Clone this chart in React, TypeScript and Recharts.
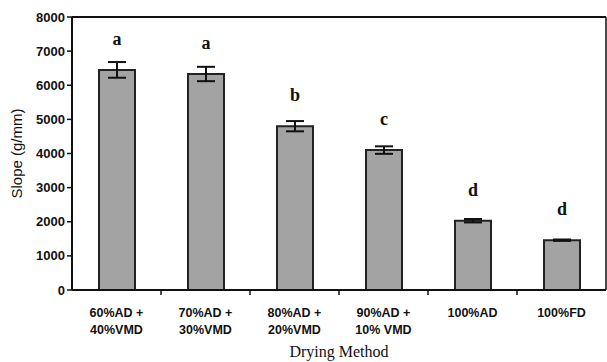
import { BarChart, Bar, XAxis, YAxis, ErrorBar, LabelList, Label, ReferenceLine } from 'recharts';

const line1 = ['60%AD +', '70%AD +', '80%AD +', '90%AD +', '100%AD', '100%FD'];
const line2 = ['40%VMD', '30%VMD', '20%VMD', '10% VMD', '', ''];
const slope = [6450, 6330, 4800, 4100, 2030, 1460];
const slopeErr = [230, 210, 150, 110, 50, 20];
const letters = ['a', 'a', 'b', 'c', 'd', 'd'];
const yTicks = [0, 1000, 2000, 3000, 4000, 5000, 6000, 7000, 8000];

const W = 607;
const H = 362;
const M = { top: 17, right: 1, left: 0, bottom: 0 };
const Y_AXIS_W = 72;
const X_AXIS_H = 72;
const PLOT_BOTTOM = H - M.bottom - X_AXIS_H;
const BAND = (W - M.left - M.right - Y_AXIS_W) / line1.length;

const data = line1.map((name, i) => ({
  name,
  sub: line2[i],
  slope: slope[i],
  err: slopeErr[i],
  letter: letters[i],
}));

const sans = '"Liberation Sans", Arial, sans-serif';
const serif = '"Liberation Serif", "Times New Roman", serif';

const XTick = (props: any) => {
  const { x, payload, index } = props;
  const d = data[index] ?? data.find((r) => r.name === payload.value);
  return (
    <g>
      {index > 0 && (
        <line x1={x - BAND / 2} x2={x - BAND / 2} y1={PLOT_BOTTOM} y2={PLOT_BOTTOM + 5} stroke="#111" strokeWidth={1.5} />
      )}
      <text x={x} y={PLOT_BOTTOM + 27} textAnchor="middle" fontFamily={sans} fontWeight="bold" fontSize={12.5} fill="#111">
        {payload.value}
      </text>
      {d && d.sub && (
        <text x={x} y={PLOT_BOTTOM + 44} textAnchor="middle" fontFamily={sans} fontWeight="bold" fontSize={12.5} fill="#111">
          {d.sub}
        </text>
      )}
    </g>
  );
};

const LetterLabel = (props: any) => {
  const { x, y, width, value } = props;
  return (
    <text x={x + width / 2} y={y - 25} textAnchor="middle" fontFamily={serif} fontWeight="bold" fontSize={18} fill="#111">
      {value}
    </text>
  );
};

export default function App() {
  return (
    <div style={{ width: W, height: H, background: '#fff' }}>
      <style>{`body{margin:0}`}</style>
      <BarChart width={W} height={H} data={data} margin={M} barCategoryGap="30%">
        <XAxis
          dataKey="name"
          height={X_AXIS_H}
          axisLine={{ stroke: '#111', strokeWidth: 2 }}
          tickLine={false}
          tick={<XTick />}
          interval={0}
        >
          <Label value="Drying Method" position="insideBottom" offset={5} style={{ fontFamily: serif, fontSize: 16, fill: '#111' }} />
        </XAxis>
        <YAxis
          domain={[0, 8000]}
          ticks={yTicks}
          width={Y_AXIS_W}
          interval={0}
          axisLine={{ stroke: '#111', strokeWidth: 2 }}
          tickLine={{ stroke: '#111', strokeWidth: 1.5 }}
          tickSize={5}
          tick={{ fontFamily: sans, fontWeight: 'bold', fontSize: 13, fill: '#111' }}
        >
          <Label value="Slope (g/mm)" angle={-90} position="insideLeft" offset={17} style={{ fontFamily: sans, fontSize: 15, fill: '#111', textAnchor: 'middle' }} />
        </YAxis>
        <ReferenceLine y={8000} stroke="#111" strokeWidth={2} ifOverflow="visible" />
        <ReferenceLine x="100%FD" position="end" stroke="#111" strokeWidth={1.5} ifOverflow="visible" />
        <Bar dataKey="slope" fill="#a3a3a3" stroke="#222" strokeWidth={2} barSize={36} isAnimationActive={false}>
          <ErrorBar dataKey="err" width={9} stroke="#111" strokeWidth={2} direction="y" />
          <LabelList dataKey="letter" content={<LetterLabel />} />
        </Bar>
      </BarChart>
    </div>
  );
}
